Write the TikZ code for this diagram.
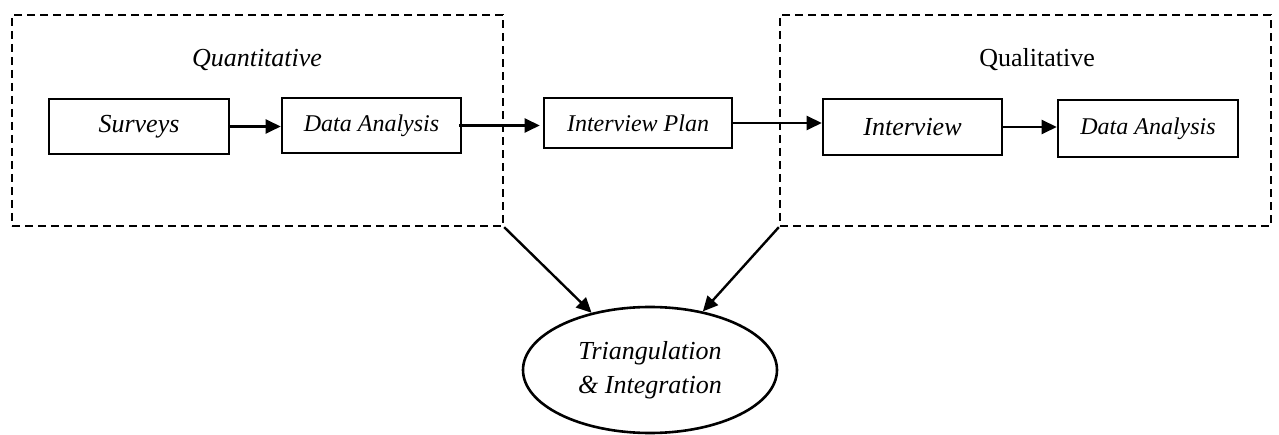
\documentclass[tikz,border=0pt]{standalone}
\usepackage{fontspec}
\setmainfont{Liberation Serif}
\usetikzlibrary{arrows.meta,shapes.geometric}
\begin{document}
\begin{tikzpicture}[x=1pt,y=-1pt,
  stepbox/.style={draw,line width=2.6pt,rectangle,inner sep=0pt,font=\fontsize{26}{30}\selectfont\itshape},
  smallbox/.style={stepbox,font=\fontsize{24}{28}\selectfont\itshape},
  groupbox/.style={draw,line width=2.4pt,dash pattern=on 8pt off 5pt,rectangle,inner sep=0pt},
  lbl/.style={inner sep=0pt,font=\fontsize{26}{30}\selectfont},
  arr/.style={line width=2.4pt,-{Triangle[length=15pt,width=14pt]}}]
\useasboundingbox (0,0) rectangle (1279,435);
\node[groupbox,minimum width=491pt,minimum height=211pt] (quant) at (257.5,120.5) {};
\node[groupbox,minimum width=491pt,minimum height=211pt] (qual) at (1025.5,120.5) {};
\node[lbl,font=\fontsize{26}{30}\selectfont\itshape] (quantl) at (257,60) {Quantitative};
\node[lbl] (quall) at (1037,60) {Qualitative};
\node[stepbox,minimum width=180pt,minimum height=55pt] (surv) at (139,126.5) {Surveys};
\node[smallbox,minimum width=179pt,minimum height=55pt] (da1) at (371.5,125.5) {Data Analysis};
\node[smallbox,minimum width=188pt,minimum height=50pt] (ip) at (638,123) {Interview Plan};
\node[stepbox,minimum width=179pt,minimum height=56pt] (int) at (912.5,127) {Interview};
\node[smallbox,minimum width=180pt,minimum height=57pt] (da2) at (1148,128.5) {Data Analysis};
\node[draw,line width=2.6pt,ellipse,minimum width=254pt,minimum height=126pt,inner sep=0pt,
  font=\fontsize{26}{34}\selectfont\itshape,align=center] (tri) at (650,370) {Triangulation\\\& Integration};
\draw[arr] (surv.east) -- (surv.east -| da1.west);
\draw[arr] ([xshift=-3pt]da1.east) -- ([xshift=-3pt]da1.east -| ip.west);
\draw[arr] (ip.east) -- (ip.east -| int.west);
\draw[arr] (int.east) -- (int.east -| da2.west);
\draw[arr] (quant.south east) -- (tri);
\draw[arr] (qual.south west) -- (tri);
\end{tikzpicture}
\end{document}
